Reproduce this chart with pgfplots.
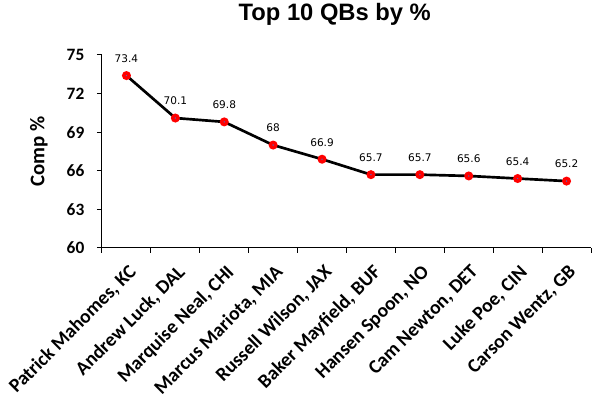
\documentclass[border=0pt]{standalone}
\usepackage{pgfplots}
\pgfplotsset{compat=1.18}
\usepackage{fontspec}
\setmainfont{Carlito}
\newfontfamily\arialfont{Liberation Sans}
\newfontfamily\dejafont{DejaVu Sans}
\definecolor{mkblue}{RGB}{70,110,200}
\begin{document}
\begin{tikzpicture}
\path[use as bounding box] (-76.5pt,-115.5pt) rectangle (377.25pt,186pt);
\begin{axis}[
  at={(0,0)}, anchor=south west,
  scale only axis, width=366.75pt, height=144.75pt,
  xmin=-0.5, xmax=9.5, ymin=60, ymax=75,
  ytick={60,63,...,75},
  xtick={0,...,9},
  xticklabels={{Patrick Mahomes, KC},{Andrew Luck, DAL},{Marquise Neal, CHI},{Marcus Mariota, MIA},{Russell Wilson, JAX},{Baker Mayfield, BUF},{Hansen Spoon, NO},{Cam Newton, DET},{Luke Poe, CIN},{Carson Wentz, GB}},
  minor xtick={-0.5,0.5,...,9.5},
  axis lines=left,
  axis line style={-, black, line width=0.75pt},
  major x tick style={draw=none},
  minor x tick style={black, line width=0.75pt},
  y tick style={black, line width=0.75pt},
  tick align=outside,
  major tick length=3.75pt, minor tick length=3.75pt,
  /pgf/number format/assume math mode=true,
  yticklabel style={font=\bfseries\fontsize{13}{14}\selectfont, xshift=-6pt},
  xticklabel style={font=\bfseries\fontsize{14.6}{15}\selectfont, rotate=45, anchor=north east, inner sep=1pt, xshift=-4pt, yshift=-5pt},
  ylabel={Comp \%},
  ylabel style={font=\bfseries\fontsize{15.6}{16}\selectfont, at={(rel axis cs:-0.129,0.5)}, anchor=center},
  title={Top 10 QBs by \%},
  title style={font=\arialfont\bfseries\fontsize{17.8}{19}\selectfont, at={(rel axis cs:0.476,1.171)}, anchor=center},
  nodes near coords,
  every node near coord/.append style={font=\dejafont\fontsize{7.9}{8.5}\selectfont, black, anchor=center, yshift=12.75pt},
  clip=false,
]
\addplot[black, line width=2pt, mark=*, mark size=2pt, mark options={fill=mkblue, draw=red, line width=2.6pt}]
  coordinates {(0,73.4) (1,70.1) (2,69.8) (3,68) (4,66.9) (5,65.7) (6,65.7) (7,65.6) (8,65.4) (9,65.2)};
\end{axis}
\end{tikzpicture}
\end{document}
